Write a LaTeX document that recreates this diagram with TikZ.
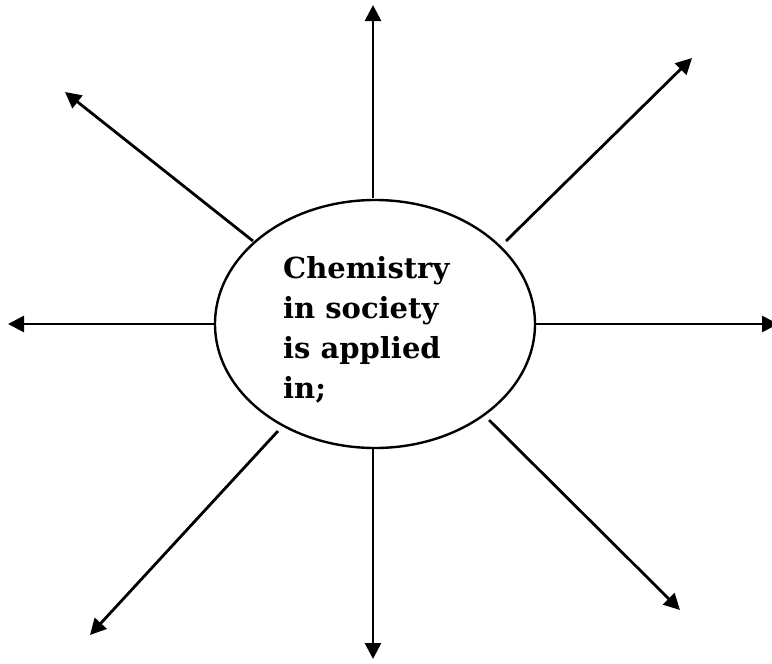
\documentclass[tikz,border=0pt]{standalone}
\usepackage{fontspec}
\setmainfont{DejaVu Serif}
\usetikzlibrary{arrows.meta,shapes.geometric}
\tikzset{
  hub/.style={draw, ellipse, line width=2.4pt, minimum width=320pt, minimum height=248pt, inner sep=0pt},
  spoke/.style={line width=2.8pt, -{Triangle[length=16pt,width=16pt]}},
  hubtext/.style={align=left, anchor=north west, inner sep=0pt, font=\bfseries\fontsize{29}{40}\selectfont}
}
\begin{document}
\begin{tikzpicture}[x=1pt,y=-1pt]
\useasboundingbox (0,0) rectangle (772,664);
\node[hub] (e) at (375,324) {};
\node[hubtext] (t) at (283,256) {Chemistry\\in society\\is applied\\in;};
\coordinate (s1) at (373,198); \coordinate (t1) at (373,5);
\coordinate (s2) at (506,241); \coordinate (t2) at (692,58);
\coordinate (s3) at (535,324); \coordinate (t3) at (778,324);
\coordinate (s4) at (489,420); \coordinate (t4) at (680,610);
\coordinate (s5) at (373,448); \coordinate (t5) at (373,659);
\coordinate (s6) at (278,431); \coordinate (t6) at (90,635);
\coordinate (s7) at (215,324); \coordinate (t7) at (8,324);
\coordinate (s8) at (253,241); \coordinate (t8) at (65,92);
\foreach \i in {1,...,8} {\draw[spoke] (s\i) -- (t\i);}
\end{tikzpicture}
\end{document}
